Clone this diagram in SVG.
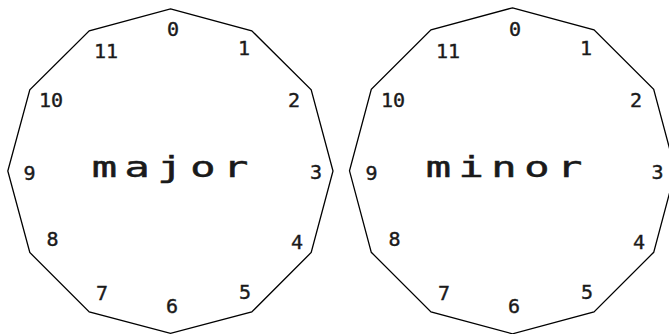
<svg xmlns="http://www.w3.org/2000/svg" width="669" height="334" viewBox="0 0 669 334">
<style>
.poly{fill:#fff;stroke:#000;stroke-width:1.3;stroke-linejoin:miter}
.num{font-family:"DejaVu Sans Mono","Liberation Mono",monospace;font-size:20px;fill:#1a1a1a;stroke:#1a1a1a;stroke-width:0.4;text-anchor:middle}
.title{font-family:"DejaVu Sans Mono","Liberation Mono",monospace;font-size:28px;fill:#1a1a1a;stroke:#1a1a1a;stroke-width:0.5;text-anchor:middle;letter-spacing:5px}
</style>
<rect width="669" height="334" fill="#fff"/>
<g id="major">
<polygon class="poly" points="170.5,8.8 251.75,30.8 311.2,89.8 333,171 311.2,252.5 251.75,312 170.5,333.3 89.25,312 29.8,252.5 7.8,171 29.8,89.8 89.25,30.8"/>
<text class="title" transform="translate(170 177) scale(1.5 1)" x="2.5" y="0">major</text>
<text class="num" x="173" y="36">0</text>
<text class="num" x="244" y="55">1</text>
<text class="num" x="294" y="107">2</text>
<text class="num" x="316" y="179">3</text>
<text class="num" x="297" y="249">4</text>
<text class="num" x="245" y="299">5</text>
<text class="num" x="172" y="313">6</text>
<text class="num" x="102" y="300">7</text>
<text class="num" x="52.5" y="246">8</text>
<text class="num" x="29.5" y="180">9</text>
<text class="num" x="51" y="107">10</text>
<text class="num" x="106" y="58">11</text>
</g>
<g id="minor">
<polygon class="poly" points="512.5,7.8 594,29.8 653.7,89.3 675.5,170.8 653.7,252.3 594,312 512.5,333.8 431,312 371.3,252.3 349.5,170.8 371.3,89.3 431,29.8"/>
<text class="title" transform="translate(504 177) scale(1.5 1)" x="2.5" y="0">minor</text>
<text class="num" x="515" y="36">0</text>
<text class="num" x="586" y="55">1</text>
<text class="num" x="636" y="107">2</text>
<text class="num" x="657.5" y="179">3</text>
<text class="num" x="639" y="249">4</text>
<text class="num" x="587" y="299">5</text>
<text class="num" x="514" y="313">6</text>
<text class="num" x="444" y="300">7</text>
<text class="num" x="394.5" y="246">8</text>
<text class="num" x="371.5" y="180">9</text>
<text class="num" x="393" y="107">10</text>
<text class="num" x="448" y="58">11</text>
</g>
</svg>
